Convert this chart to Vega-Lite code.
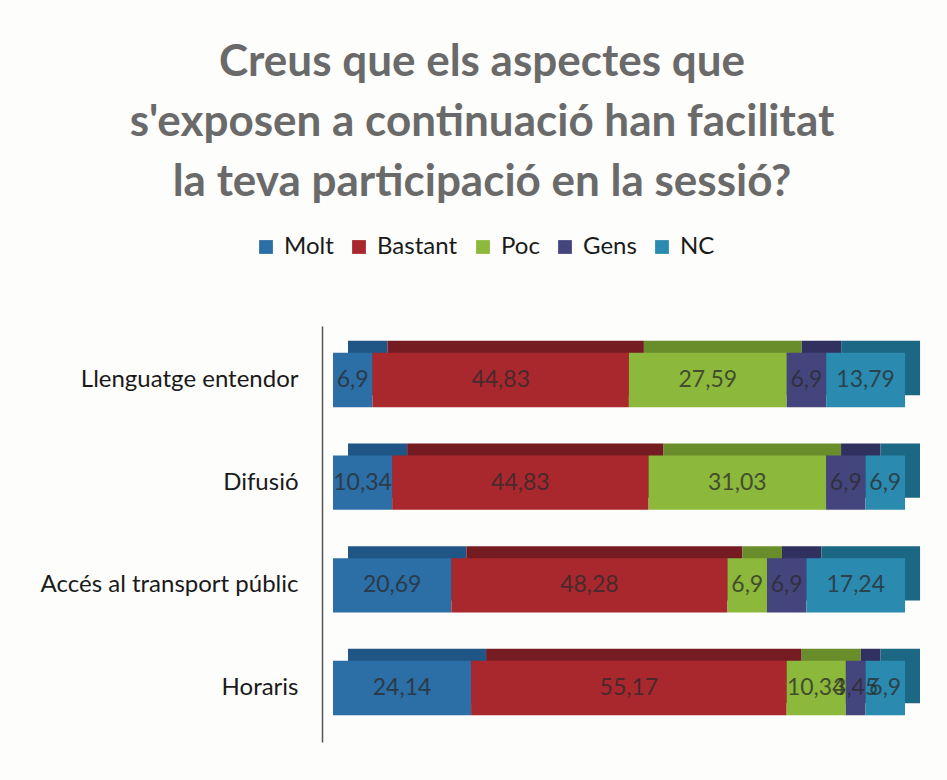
{
  "$schema": "https://vega.github.io/schema/vega-lite/v6.json",
  "width": 572,
  "height": 416,
  "autosize": {"type": "none"},
  "padding": {"left": 333, "top": 326, "right": 42, "bottom": 38},
  "background": "#fdfdfb",
  "title": {
    "text": ["Creus que els aspectes que", "s'exposen a continuació han facilitat", "la teva participació en la sessió?"],
    "font": "Lato",
    "fontSize": 44,
    "fontWeight": "bold",
    "color": "#6a6a6a",
    "lineHeight": 60,
    "anchor": "middle",
    "frame": "group",
    "dx": -137,
    "offset": 30
  },
  "config": {
    "view": {"stroke": null},
    "locale": {"number": {"decimal": ",", "thousands": ".", "grouping": [3], "currency": ["", " €"]}}
  },
  "data": {
    "values": [
      {"cat": "Llenguatge entendor", "serie": "Molt", "ord": 1, "value": 6.9},
      {"cat": "Llenguatge entendor", "serie": "Bastant", "ord": 2, "value": 44.83},
      {"cat": "Llenguatge entendor", "serie": "Poc", "ord": 3, "value": 27.59},
      {"cat": "Llenguatge entendor", "serie": "Gens", "ord": 4, "value": 6.9},
      {"cat": "Llenguatge entendor", "serie": "NC", "ord": 5, "value": 13.79},
      {"cat": "Difusió", "serie": "Molt", "ord": 1, "value": 10.34},
      {"cat": "Difusió", "serie": "Bastant", "ord": 2, "value": 44.83},
      {"cat": "Difusió", "serie": "Poc", "ord": 3, "value": 31.03},
      {"cat": "Difusió", "serie": "Gens", "ord": 4, "value": 6.9},
      {"cat": "Difusió", "serie": "NC", "ord": 5, "value": 6.9},
      {"cat": "Accés al transport públic", "serie": "Molt", "ord": 1, "value": 20.69},
      {"cat": "Accés al transport públic", "serie": "Bastant", "ord": 2, "value": 48.28},
      {"cat": "Accés al transport públic", "serie": "Poc", "ord": 3, "value": 6.9},
      {"cat": "Accés al transport públic", "serie": "Gens", "ord": 4, "value": 6.9},
      {"cat": "Accés al transport públic", "serie": "NC", "ord": 5, "value": 17.24},
      {"cat": "Horaris", "serie": "Molt", "ord": 1, "value": 24.14},
      {"cat": "Horaris", "serie": "Bastant", "ord": 2, "value": 55.17},
      {"cat": "Horaris", "serie": "Poc", "ord": 3, "value": 10.34},
      {"cat": "Horaris", "serie": "Gens", "ord": 4, "value": 3.45},
      {"cat": "Horaris", "serie": "NC", "ord": 5, "value": 6.9}
    ]
  },
  "encoding": {
    "y": {
      "field": "cat",
      "type": "nominal",
      "sort": ["Llenguatge entendor", "Difusió", "Accés al transport públic", "Horaris"],
      "scale": {"paddingInner": 0.47, "paddingOuter": 0.26},
      "axis": {
        "title": null,
        "ticks": false,
        "domain": true,
        "domainColor": "#555555",
        "domainWidth": 1.5,
        "offset": 11,
        "labelFont": "Lato",
        "labelFontSize": 24,
        "labelColor": "#1a1a1a",
        "labelPadding": 24,
        "labelLimit": 0
      }
    },
    "x": {
      "field": "value",
      "type": "quantitative",
      "stack": "zero",
      "scale": {"domain": [0, 100], "nice": false},
      "axis": null
    },
    "order": {"field": "ord", "type": "quantitative"}
  },
  "resolve": {"scale": {"color": "independent"}, "legend": {"color": "independent"}},
  "layer": [
    {
      "mark": {"type": "bar", "xOffset": 15, "yOffset": -12},
      "encoding": {
        "color": {
          "field": "serie",
          "type": "nominal",
          "legend": null,
          "scale": {
            "domain": ["Molt", "Bastant", "Poc", "Gens", "NC"],
            "range": ["#1f5686", "#741c22", "#6a8d2b", "#313160", "#1c6784"]
          }
        }
      }
    },
    {
      "mark": {"type": "bar"},
      "encoding": {
        "color": {
          "field": "serie",
          "type": "nominal",
          "sort": ["Molt", "Bastant", "Poc", "Gens", "NC"],
          "scale": {
            "domain": ["Molt", "Bastant", "Poc", "Gens", "NC"],
            "range": ["#2c6ea6", "#a8282e", "#8cb83b", "#45457e", "#2a8ab0"]
          },
          "legend": {
            "title": null,
            "orient": "none",
            "direction": "horizontal",
            "legendX": -79,
            "legendY": -91,
            "symbolType": "square",
            "symbolSize": 190,
            "symbolStrokeWidth": 0,
            "labelFont": "Lato",
            "labelFontSize": 24,
            "labelColor": "#1a1a1a",
            "labelOffset": 6,
            "columnPadding": 13,
            "padding": 0
          }
        }
      }
    },
    {
      "mark": {"type": "text", "font": "Lato", "fontSize": 23, "color": "#2a2a2a", "opacity": 0.75},
      "encoding": {
        "x": {"field": "value", "type": "quantitative", "stack": "zero", "bandPosition": 0.5},
        "text": {"field": "value", "type": "quantitative", "format": ".4~r"}
      }
    }
  ]
}
